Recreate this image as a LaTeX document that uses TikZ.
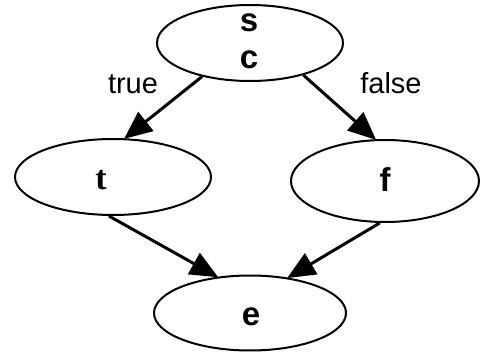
\documentclass[tikz,border=0pt]{standalone}
\usepackage{fontspec}
\setmainfont{Liberation Sans}
\newfontfamily\serifb{Liberation Serif}
\usetikzlibrary{shapes.geometric,arrows.meta}
\begin{document}
\begin{tikzpicture}[x=1pt,y=-1pt,
  ell/.style={draw, line width=2pt, ellipse, inner sep=0pt},
  nlabel/.style={font=\fontsize{33}{38}\selectfont\bfseries, inner sep=0pt},
  elabel/.style={font=\fontsize{29}{34}\selectfont, inner sep=0pt},
  edge/.style={line width=3pt, -{Triangle[length=28pt,width=24pt]}, shorten >=-1pt}]
\useasboundingbox (0,0) rectangle (480,356);
\node[ell, minimum width=186pt, minimum height=76pt] (s) at (250,43) {};
\node[nlabel] (stxt) at (249,23) {s};
\node[nlabel] (ctxt) at (249,60) {c};
\node[ell, minimum width=196pt, minimum height=76pt] (t) at (113,177) {};
\node[font=\fontsize{34}{38}\selectfont\serifb\bfseries, inner sep=0pt] (ttxt) at (101,180) {t};
\node[ell, minimum width=188pt, minimum height=82pt] (f) at (385,181) {};
\node[nlabel] (ftxt) at (385,180) {f};
\node[ell, minimum width=192pt, minimum height=75pt] (e) at (250,313) {};
\node[nlabel] (etxt) at (251,317) {e};
\draw[edge] (s.215) -- (t.73);
\draw[edge] (s.329) -- (f.103);
\draw[edge] (t.264) -- (e.132);
\draw[edge] (f.263) -- (e.43);
\node[elabel] (ltrue) at (133,84.5) {true};
\node[elabel] (lfalse) at (391,83.5) {false};
\end{tikzpicture}
\end{document}
